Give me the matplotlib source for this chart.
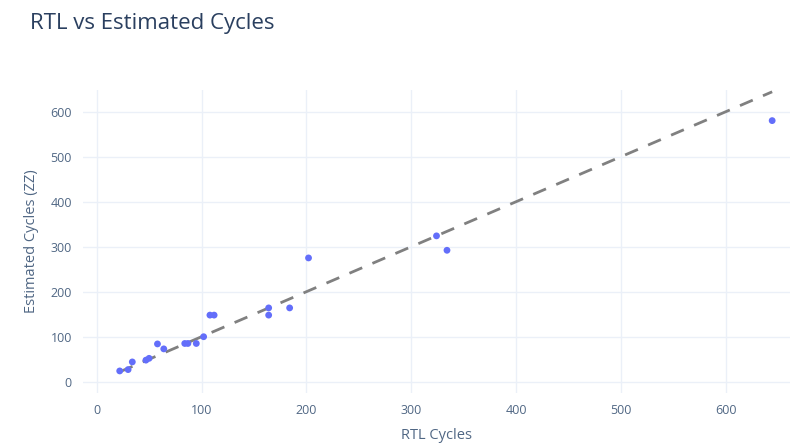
import matplotlib
matplotlib.use('Agg')
import matplotlib.pyplot as plt

# RTL-measured cycles vs model estimate (ZZ)
rtl_cycles = [22, 30, 34, 47, 50, 58, 64, 84, 87, 95, 102, 108, 112,
              164, 164, 184, 202, 324, 334, 644]
est_cycles = [24, 27, 44, 48, 52, 84, 73, 85, 85, 85, 100, 148, 148,
              164, 148, 164, 275, 324, 292, 580]

x_ticks = [0, 100, 200, 300, 400, 500, 600]
y_ticks = [0, 100, 200, 300, 400, 500, 600]

TEXT = '#2a3f5f'
GRID = '#ebf0f8'

plt.rcParams['font.family'] = ['Open Sans', 'DejaVu Sans']

fig = plt.figure(figsize=(8.02, 4.43), dpi=100)
ax = fig.add_axes([83 / 802, 1 - 393 / 443, (790 - 83) / 802, (393 - 90) / 443])

# y = x reference line
lo = min(min(rtl_cycles), min(est_cycles))
hi = max(max(rtl_cycles), max(est_cycles))
ax.plot([lo, hi], [lo, hi], linestyle=(0, (5, 4)), color='#808080',
        linewidth=2, zorder=2)

ax.scatter(rtl_cycles, est_cycles, s=24, color='#636efa', edgecolors='none', zorder=3)

ax.set_xlim(-13, 661)
ax.set_ylim(-25, 648)
ax.set_xticks(x_ticks)
ax.set_yticks(y_ticks)
ax.grid(True, color=GRID, linewidth=1)
ax.set_axisbelow(True)
for s in ax.spines.values():
    s.set_visible(False)
ax.tick_params(length=0, labelsize=9, pad=8)
for lbl in ax.get_xticklabels() + ax.get_yticklabels():
    lbl.set_color('#506784')

ax.set_xlabel('RTL Cycles', fontsize=10.5, color='#506784', labelpad=8)
ax.set_ylabel('Estimated Cycles (ZZ)', fontsize=10.5, color='#506784', labelpad=8)

fig.text(30 / 802, 1 - 23 / 443, 'RTL vs Estimated Cycles', fontsize=16,
         color=TEXT, va='center', ha='left')

fig.savefig('out.png', dpi=100)
plt.close(fig)
